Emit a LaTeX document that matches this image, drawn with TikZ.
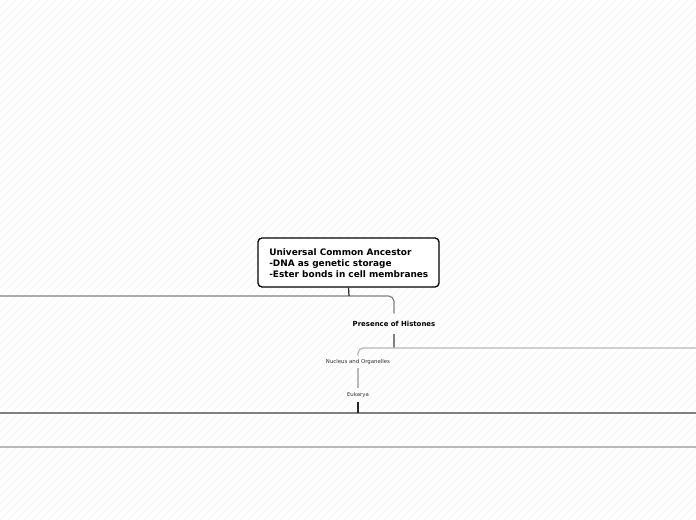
\documentclass[tikz,border=0pt]{standalone}
\usepackage{fontspec}
\setmainfont{DejaVu Sans}
\begin{document}
\begin{tikzpicture}[x=0.75pt,y=-0.75pt,
  rootbox/.style={draw=black,line width=1pt,rounded corners=3pt,fill=white,
    minimum width=135.75pt,minimum height=36.75pt,inner sep=0pt},
  subtitle/.style={inner sep=0pt,minimum height=15pt,font=\bfseries\fontsize{5.2pt}{6pt}\selectfont},
  tiny/.style={inner sep=0pt,minimum height=9pt,font=\fontsize{4.05pt}{4.5pt}\selectfont,text=black!80},
  darkline/.style={draw=black!85,line width=0.9pt},
  midline/.style={draw=black!50,line width=0.9pt},
  lightline/.style={draw=black!28,line width=0.9pt},
  hatch/.style={draw=black!5,line width=0.35pt}]
\useasboundingbox (0,0) rectangle (696,520);
\fill[white] (0,0) rectangle (696,520);
\begin{scope}
\clip (0,0) rectangle (696,520);
\foreach \k in {-520,-512,...,700} {\draw[hatch] (\k,520) -- (\k+520,0);}
\end{scope}
% nodes
\node[rootbox] (root) at (348.5,262.5) {};
\node[anchor=west,align=left,inner sep=0pt,font=\bfseries\fontsize{6.7pt}{8.25pt}\selectfont] (roottext) at (269,263.5)
  {Universal Common Ancestor\\-DNA as genetic storage\\-Ester bonds in cell membranes};
\node[subtitle] (hist) at (394,324) {Presence of Histones};
\node[tiny] (nuc) at (358,362) {Nucleus and Organelles};
\node[tiny,minimum height=10.5pt] (euk) at (358,395) {Eukarya};
% coordinates
\coordinate (j1) at (349,296);
\coordinate (l1) at (0,296);
\coordinate (j2) at (394,348);
\coordinate (r2) at (696,348);
\coordinate (e3) at (358,413);
\coordinate (l3) at (0,413);
\coordinate (r3) at (696,413);
\coordinate (l4) at (0,447);
\coordinate (r4) at (696,447);
% connectors
\draw[midline,rounded corners=4pt] (l1) -| (hist.north);
\draw[darkline] (root.south) -- (j1);
\draw[midline] (hist.south) -- (j2);
\draw[lightline,rounded corners=4pt] (r2) -| (nuc.north);
\draw[lightline] (nuc.south) -- (euk.north);
\draw[midline,line width=1.1pt] (l3) -- (r3);
\draw[darkline,line width=1.1pt] (euk.south) -- (e3);
\draw[lightline] (l4) -- (r4);
\end{tikzpicture}
\end{document}
